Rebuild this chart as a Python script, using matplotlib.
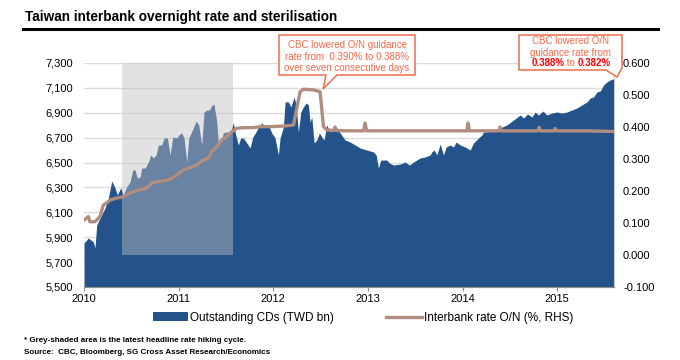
import numpy as np
import matplotlib
matplotlib.use("Agg")
import matplotlib.pyplot as plt
from matplotlib.patches import Polygon, Patch
from matplotlib.lines import Line2D
from matplotlib.ticker import StrMethodFormatter
from matplotlib.offsetbox import TextArea, HPacker, AnchoredOffsetbox

plt.rcParams['font.family'] = ['Liberation Sans', 'DejaVu Sans']
plt.rcParams['axes.unicode_minus'] = False

# outstanding CDs, TWD bn (fractional years)
cd_t = [2010.000, 2010.046, 2010.099, 2010.116, 2010.134, 2010.169, 2010.222, 2010.257, 2010.293, 2010.328,
        2010.352, 2010.388, 2010.416, 2010.451, 2010.486, 2010.515, 2010.539, 2010.563, 2010.592, 2010.610,
        2010.645, 2010.680, 2010.705, 2010.733, 2010.761, 2010.786, 2010.821, 2010.846, 2010.881, 2010.909,
        2010.938, 2010.980, 2011.001, 2011.033, 2011.057, 2011.086, 2011.107, 2011.155, 2011.184, 2011.212,
        2011.244, 2011.268, 2011.297, 2011.325, 2011.353, 2011.374, 2011.403, 2011.420, 2011.445, 2011.473,
        2011.508, 2011.543, 2011.578, 2011.603, 2011.631, 2011.656, 2011.684, 2011.720, 2011.755, 2011.783,
        2011.818, 2011.843, 2011.878, 2011.913, 2011.948, 2011.984, 2012.019, 2012.054, 2012.072, 2012.107,
        2012.125, 2012.160, 2012.186, 2012.220, 2012.241, 2012.265, 2012.291, 2012.318, 2012.347, 2012.371,
        2012.389, 2012.407, 2012.431, 2012.460, 2012.488, 2012.513, 2012.537, 2012.565, 2012.600, 2012.635,
        2012.664, 2012.706, 2012.759, 2012.812, 2012.865, 2012.918, 2012.988, 2013.058, 2013.087, 2013.111,
        2013.136, 2013.200, 2013.227, 2013.270, 2013.340, 2013.393, 2013.439, 2013.481, 2013.552, 2013.605,
        2013.658, 2013.675, 2013.700, 2013.728, 2013.763, 2013.798, 2013.827, 2013.869, 2013.904, 2013.932,
        2013.975, 2014.027, 2014.080, 2014.115, 2014.168, 2014.204, 2014.221, 2014.257, 2014.327, 2014.397,
        2014.468, 2014.538, 2014.609, 2014.644, 2014.686, 2014.733, 2014.768, 2014.802, 2014.849, 2014.891,
        2014.944, 2014.997, 2015.050, 2015.103, 2015.155, 2015.208, 2015.261, 2015.314, 2015.349, 2015.384,
        2015.420, 2015.455, 2015.490, 2015.525, 2015.560, 2015.589, 2015.600]
cd_val = [5854, 5894, 5862, 5813, 5998, 6054, 6135, 6215, 6352, 6296,
          6240, 6296, 6240, 6304, 6344, 6440, 6440, 6376, 6384, 6456,
          6456, 6504, 6561, 6537, 6561, 6641, 6641, 6697, 6697, 6561,
          6705, 6697, 6721, 6738, 6697, 6504, 6697, 6778, 6834, 6802,
          6641, 6906, 6922, 6922, 6963, 6968, 6826, 6641, 6665, 6738,
          6746, 6738, 6818, 6721, 6641, 6697, 6697, 6657, 6617, 6705,
          6746, 6786, 6818, 6786, 6802, 6738, 6697, 6561, 6697, 6786,
          6987, 6987, 6947, 7027, 6963, 6746, 6906, 6947, 6979, 6963,
          6826, 6866, 6657, 6681, 6738, 6705, 6681, 6802, 6746, 6786,
          6786, 6738, 6681, 6665, 6641, 6617, 6601, 6585, 6561, 6456,
          6520, 6520, 6496, 6480, 6488, 6504, 6480, 6504, 6537, 6545,
          6561, 6585, 6601, 6561, 6649, 6561, 6625, 6641, 6625, 6665,
          6641, 6625, 6601, 6657, 6697, 6721, 6746, 6746, 6754, 6778,
          6802, 6842, 6882, 6858, 6890, 6866, 6906, 6882, 6914, 6882,
          6898, 6906, 6898, 6906, 6922, 6938, 6963, 6987, 7019, 7027,
          7067, 7075, 7123, 7148, 7164, 7172, 7172]

# interbank overnight rate, % (RHS)
rate_t = [2010.000, 2010.046, 2010.063, 2010.116, 2010.169, 2010.204, 2010.240, 2010.275, 2010.346, 2010.416,
          2010.486, 2010.574, 2010.663, 2010.715, 2010.803, 2010.891, 2010.980, 2011.050, 2011.121, 2011.191,
          2011.244, 2011.314, 2011.350, 2011.403, 2011.455, 2011.508, 2011.561, 2011.614, 2011.684, 2011.790,
          2011.860, 2011.966, 2012.107, 2012.213, 2012.283, 2012.318, 2012.424, 2012.495, 2012.530, 2012.565,
          2012.640, 2012.653, 2012.666, 2012.812, 2012.955, 2012.970, 2012.986, 2013.300, 2013.700, 2014.045,
          2014.059, 2014.073, 2014.385, 2014.397, 2014.409, 2014.798, 2014.810, 2014.822, 2014.967, 2014.979,
          2014.991, 2015.300, 2015.600]
rate_val = [0.109, 0.120, 0.104, 0.104, 0.120, 0.156, 0.163, 0.172, 0.178, 0.182,
            0.194, 0.203, 0.209, 0.225, 0.231, 0.234, 0.250, 0.266, 0.272, 0.281,
            0.294, 0.303, 0.323, 0.338, 0.359, 0.370, 0.385, 0.396, 0.398, 0.398,
            0.401, 0.401, 0.403, 0.406, 0.510, 0.518, 0.516, 0.510, 0.401, 0.391,
            0.389, 0.400, 0.389, 0.388, 0.388, 0.412, 0.388, 0.388, 0.388, 0.388,
            0.412, 0.388, 0.388, 0.400, 0.388, 0.388, 0.399, 0.388, 0.388, 0.395,
            0.388, 0.388, 0.386]

# rate hiking cycle (grey box)
hike_start, hike_end = 2010.405, 2011.572

years = [2010, 2011, 2012, 2013, 2014, 2015]
left_ticks = list(range(5500, 7301, 200))
right_ticks = [-0.1, 0.0, 0.1, 0.2, 0.3, 0.4, 0.5, 0.6]

BLUE = '#24528a'
BROWN = '#b08d7e'
CORAL = '#ee6c4d'

W, H = 680, 360
def fx(px):
    return px / W
def fy(py):
    return 1 - py / H

fig = plt.figure(figsize=(6.8, 3.6), dpi=100)
ax1 = fig.add_axes([fx(84), fy(287), fx(614) - fx(84), fy(63) - fy(287)])
ax2 = ax1.twinx()

ax1.fill_between(cd_t, 5000, cd_val, color=BLUE, lw=0, zorder=2)
ax1.set_xlim(2010, 2015.6)
ax1.set_ylim(5500, 7300)
ax1.set_yticks(left_ticks)
ax1.yaxis.set_major_formatter(StrMethodFormatter('{x:,.0f}'))
ax1.set_xticks(years)
ax1.set_xticklabels([str(y) for y in years])
ax1.grid(axis='y', color='#dcdcdc', lw=1)
ax1.set_axisbelow(True)

ax2.set_ylim(-0.1, 0.6)
ax2.set_yticks(right_ticks)
ax2.yaxis.set_major_formatter(StrMethodFormatter('{x:.3f}'))
ax2.fill_between([hike_start, hike_end], 0, 0.6, color='#c0c0c0', alpha=0.45, lw=0, zorder=1)
ax2.plot(rate_t, rate_val, color=BROWN, lw=2.4, zorder=3)

for ax in (ax1, ax2):
    for s in ('top', 'left'):
        ax.spines[s].set_visible(False)
    ax.spines['bottom'].set_color('#8c8c8c')
    ax.spines['right'].set_color('#c8c8c8')
    ax.spines['right'].set_linewidth(0.8)
ax1.spines['right'].set_visible(False)
ax1.tick_params(axis='y', length=0, labelsize=8, pad=8)
ax2.tick_params(axis='y', length=0, labelsize=8, pad=6.5)
ax1.tick_params(axis='x', length=3, color='#8c8c8c', labelsize=8, pad=2)

# title and rule
fig.text(fx(25), fy(17), 'Taiwan interbank overnight rate and sterilisation',
         fontsize=9.8, weight='bold', va='center')
fig.add_artist(Line2D([fx(23), fx(658)], [fy(29), fy(29)], color='black', lw=2.2))

# callouts
def bubble(pts):
    poly = Polygon([[fx(x), fy(y)] for x, y in pts], closed=True, transform=fig.transFigure,
                   fc='white', ec=CORAL, lw=1.1, zorder=10)
    fig.add_artist(poly)

bubble([(279, 35), (415, 35), (415, 75), (337, 75), (323, 89), (326, 75), (279, 75)])
for yy, s in zip([45, 56.5, 68], ['CBC lowered O/N guidance', 'rate from  0.390% to 0.388%',
                                  'over seven consecutive days']):
    fig.text(fx(347), fy(yy), s, ha='center', va='center', color=CORAL, fontsize=7, zorder=11)

bubble([(519, 35), (622, 35), (622, 68), (617, 77), (606, 70), (519, 70)])
for yy, s in zip([41.5, 53], ['CBC lowered O/N', 'guidance rate from']):
    fig.text(fx(571), fy(yy), s, ha='center', va='center', color=CORAL, fontsize=7, zorder=11)
row = HPacker(children=[TextArea('0.388%', textprops=dict(color='red', weight='bold', size=7)),
                        TextArea(' to ', textprops=dict(color=CORAL, size=7)),
                        TextArea('0.382%', textprops=dict(color='red', weight='bold', size=7))],
              pad=0, sep=0, align='baseline')
ab = AnchoredOffsetbox(loc='center', child=row, bbox_to_anchor=(fx(571), fy(63.5)),
                       bbox_transform=fig.transFigure, frameon=False, pad=0, borderpad=0)
ab.set_zorder(11)
fig.add_artist(ab)

# legend
handles = [Patch(color=BLUE, lw=0), Line2D([], [], color=BROWN, lw=2.4)]
fig.legend(handles, ['Outstanding CDs (TWD bn)', 'Interbank rate O/N (%, RHS)'],
           loc='center', bbox_to_anchor=(fx(363), fy(318)), ncol=2, frameon=False,
           fontsize=8.5, handlelength=3.0, handleheight=0.8, handletextpad=0.2, columnspacing=4.4)

fig.text(fx(24), fy(340), '* Grey-shaded area is the latest headline rate hiking cycle.',
         fontsize=5.8, weight='bold', va='center')
fig.text(fx(24), fy(353), 'Source:  CBC, Bloomberg, SG Cross Asset Research/Economics',
         fontsize=5.8, weight='bold', va='center')

fig.savefig('out.png', dpi=100)
